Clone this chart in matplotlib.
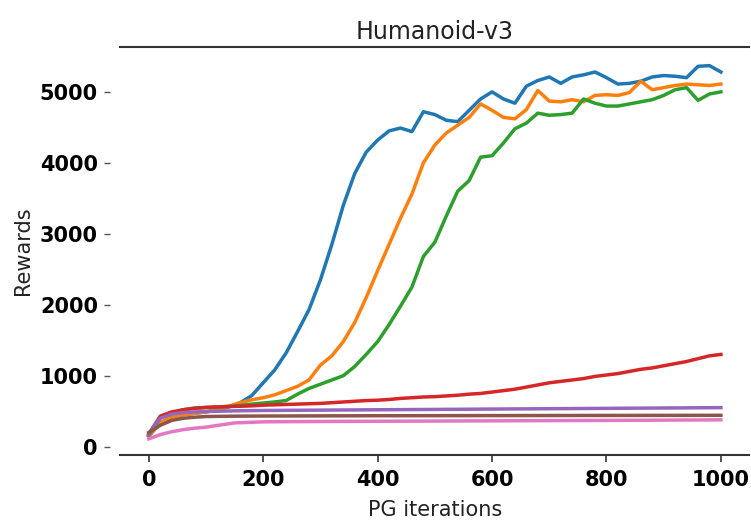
import numpy as np
import matplotlib
matplotlib.use("Agg")
import matplotlib.pyplot as plt

# iterations for the jagged curves (every 20 PG iterations)
iters = np.arange(0, 1001, 20)

blue = [150, 330, 420, 450, 470, 490, 520, 560, 620, 720,
        900, 1080, 1320, 1620, 1930, 2350, 2850, 3400, 3850, 4150,
        4320, 4450, 4490, 4440, 4720, 4680, 4600, 4580, 4740, 4900,
        5000, 4900, 4840, 5080, 5160, 5210, 5120, 5210, 5240, 5280,
        5200, 5110, 5120, 5150, 5210, 5230, 5220, 5200, 5360, 5370,
        5280]

orange = [150, 330, 420, 450, 470, 490, 520, 570, 620, 660,
          690, 730, 790, 850, 940, 1150, 1280, 1480, 1750, 2100,
          2480, 2850, 3220, 3560, 4000, 4250, 4420, 4530, 4640, 4830,
          4740, 4640, 4620, 4750, 5020, 4870, 4860, 4890, 4860, 4950,
          4960, 4950, 4990, 5150, 5030, 5060, 5090, 5110, 5100, 5090,
          5110]

green = [160, 400, 470, 520, 545, 550, 560, 568, 580, 600,
         615, 630, 650, 740, 820, 880, 940, 1000, 1130, 1300,
         1480, 1720, 1980, 2250, 2680, 2880, 3250, 3600, 3750, 4080,
         4100, 4280, 4480, 4560, 4700, 4670, 4680, 4700, 4900, 4840,
         4800, 4800, 4830, 4860, 4890, 4950, 5030, 5060, 4880, 4970,
         5000]

red = [180, 430, 490, 520, 540, 555, 560, 565, 570, 575,
       585, 590, 595, 600, 605, 610, 620, 630, 640, 650,
       655, 665, 680, 690, 700, 705, 715, 725, 740, 750,
       770, 790, 810, 840, 870, 900, 920, 940, 960, 990,
       1010, 1030, 1060, 1090, 1110, 1140, 1170, 1200, 1240, 1280,
       1300]

# iterations for the flat curves
iters_flat = [0, 10, 20, 40, 60, 80, 100, 150, 200, 300, 400, 500, 600, 700, 800, 900, 1000]

purple = [170, 300, 400, 460, 480, 490, 495, 505, 510, 515, 520, 525, 530, 535, 540, 545, 550]
brown = [200, 250, 300, 370, 400, 415, 425, 430, 432, 434, 436, 437, 438, 439, 440, 441, 442]
pink = [110, 140, 170, 210, 240, 260, 275, 335, 350, 355, 358, 361, 364, 367, 370, 374, 378]

colors = ["#1f77b4", "#ff7f0e", "#2ca02c", "#d62728", "#9467bd", "#8c564b", "#e377c2"]

fig = plt.figure(figsize=(7.51, 5.24), dpi=100)
ax = fig.add_axes([0.16, 0.132, 0.838, 0.778])

lw = 2.5
ax.plot(iters, blue, color=colors[0], lw=lw)
ax.plot(iters, orange, color=colors[1], lw=lw)
ax.plot(iters, green, color=colors[2], lw=lw)
ax.plot(iters, red, color=colors[3], lw=lw)
ax.plot(iters_flat, purple, color=colors[4], lw=lw)
ax.plot(iters_flat, brown, color=colors[5], lw=lw)
ax.plot(iters_flat, pink, color=colors[6], lw=lw)

ax.set_xlim(-50, 1050)
ax.set_ylim(-115, 5630)
ax.set_xticks([0, 200, 400, 600, 800, 1000])
ax.set_yticks([0, 1000, 2000, 3000, 4000, 5000])

ax.spines["left"].set_visible(False)
ax.spines["left"].set_position(("outward", 7))
ax.spines["right"].set_visible(False)
ax.spines["top"].set_linewidth(1.5)
ax.spines["bottom"].set_linewidth(1.5)
ax.spines["top"].set_color("#333333")
ax.spines["bottom"].set_color("#333333")

ax.tick_params(axis="y", length=4, width=1, color="#555555", pad=5)
ax.tick_params(axis="x", length=5, width=1.2, color="#333333", pad=6)
for lab in ax.get_xticklabels() + ax.get_yticklabels():
    lab.set_fontweight("bold")
    lab.set_fontsize(15)

ax.set_title("Humanoid-v3", fontsize=17, pad=6, color="#222222")
ax.set_xlabel("PG iterations", fontsize=15, labelpad=7, color="#222222")
ax.set_ylabel("Rewards", fontsize=15, labelpad=5, color="#222222")

fig.savefig("out.png", dpi=100)
